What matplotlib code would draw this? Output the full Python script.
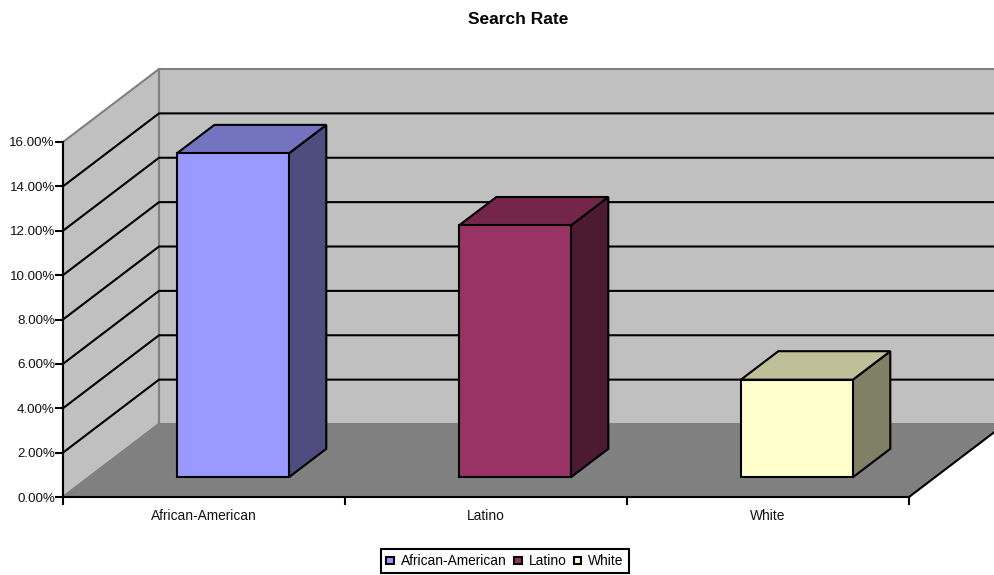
import matplotlib.pyplot as plt
from matplotlib.patches import Patch, Polygon

plt.rcParams['font.family'] = ['Liberation Sans', 'DejaVu Sans']

# Search rate in percent per group
categories = ['African-American', 'Latino', 'White']
search_rate = [14.6, 11.35, 4.4]
y_ticks = [0, 2, 4, 6, 8, 10, 12, 14, 16]

front_colors = ['#9999FF', '#993366', '#FFFFCC']
top_colors = ['#7373BF', '#732649', '#BFBF99']
side_colors = ['#4D4D80', '#4D1A33', '#808066']

# Shift of the back plane, in data units
DEPTH_X = 96 / 282
DEPTH_Y = 73 / 22.19


def project(x, y, d):
    # d = 0 is the front plane, d = 1 the back wall
    return (x + d * DEPTH_X, y + d * DEPTH_Y)


def face(ax, pts, color, edge='black', lw=1.5, z=2):
    ax.add_patch(Polygon([project(*p) for p in pts], closed=True, facecolor=color,
                         edgecolor=edge, linewidth=lw, clip_on=False, zorder=z,
                         joinstyle='miter'))


fig = plt.figure(figsize=(9.95, 5.75), dpi=100)
ax = fig.add_axes([63 / 995, 78 / 575, 846 / 995, 355 / 575])
ax.patch.set_visible(False)
ax.set_xlim(0, 3)
ax.set_ylim(0, 16)

# Walls and floor
face(ax, [(0, 0, 1), (3, 0, 1), (3, 16, 1), (0, 16, 1)], '#C0C0C0', edge='#808080', z=1)
face(ax, [(0, 0, 0), (0, 0, 1), (0, 16, 1), (0, 16, 0)], '#C0C0C0', edge='#808080', z=1)
face(ax, [(0, 0, 0), (3, 0, 0), (3, 0, 1), (0, 0, 1)], '#808080', edge='none', lw=0, z=1.1)
ax.plot(*zip(project(0, 0, 0), project(0, 0, 1)), color='#808080', lw=1.5, clip_on=False, zorder=1.2)
ax.plot(*zip(project(3, 0, 0), project(3, 0, 1)), color='black', lw=1.5, clip_on=False, zorder=1.2)

# Gridlines run along the side wall and then the back wall
for v in y_ticks[1:-1]:
    pts = [project(0, v, 0), project(0, v, 1), project(3, v, 1)]
    ax.plot(*zip(*pts), color='black', lw=1.5, clip_on=False, zorder=1.3)

# Columns
left, right = 0.312, 0.709
near, far = 0.27, 0.66
for i, val in enumerate(search_rate):
    x0, x1 = i + left, i + right
    face(ax, [(x1, 0, near), (x1, 0, far), (x1, val, far), (x1, val, near)], side_colors[i])
    face(ax, [(x0, val, near), (x1, val, near), (x1, val, far), (x0, val, far)], top_colors[i])
    face(ax, [(x0, 0, near), (x1, 0, near), (x1, val, near), (x0, val, near)], front_colors[i])

ax.set_yticks(y_ticks)
ax.set_yticklabels(['%.2f%%' % v for v in y_ticks], fontsize=9.6, color='#111111')
ax.set_xticks([0, 1, 2, 3])
ax.set_xticklabels([])
ax.set_xticks([0.5, 1.5, 2.5], categories, minor=True, fontsize=9.9, color='#111111')
ax.tick_params(axis='x', which='minor', length=0, pad=9)
ax.tick_params(axis='both', which='major', length=5.8, width=1.5, pad=0)

for s in ['top', 'right']:
    ax.spines[s].set_visible(False)
for s in ['left', 'bottom']:
    ax.spines[s].set_linewidth(1.5)
    ax.spines[s].set_zorder(5)

fig.suptitle('Search Rate', x=518 / 995, y=1 - 19 / 575, va='center', fontsize=12.5, fontweight='bold')

handles = [Patch(facecolor=c, edgecolor='black', linewidth=1.5) for c in front_colors]
fig.legend(handles, categories, loc='center', bbox_to_anchor=(505 / 995, 1 - 561 / 575),
           ncol=3, fontsize=9.9, fancybox=False, framealpha=1, edgecolor='black',
           handlelength=0.55, handleheight=0.4, handletextpad=0.5, columnspacing=0.55,
           borderpad=0.35, borderaxespad=0).get_frame().set_linewidth(1.5)

fig.savefig('out.png', dpi=100)
